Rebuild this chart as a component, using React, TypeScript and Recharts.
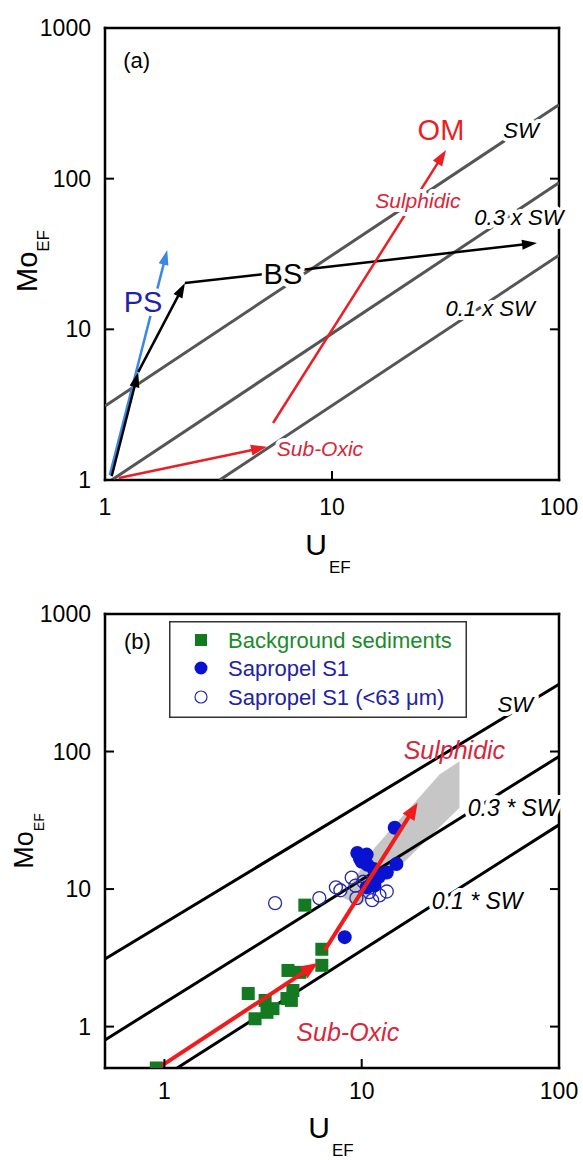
import React from 'react';
import { ScatterChart, Scatter, XAxis, YAxis, ReferenceDot, Legend } from 'recharts';

const FONT = '"Liberation Sans", Arial, Helvetica, sans-serif';

// ---- panel (a): conceptual Mo-U covariation model ----
const A_X_TICKS = [1, 10, 100];
const A_Y_TICKS = [1, 10, 100, 1000];
const A_SW = [{ u: 1, mo: 3.1 }, { u: 100, mo: 310 }];
const A_SW_03 = [{ u: 1.07, mo: 1 }, { u: 100, mo: 94 }];
const A_SW_01 = [{ u: 3.2, mo: 1 }, { u: 100, mo: 31 }];
const A_PS = [{ u: 1.05, mo: 1.08 }, { u: 1.88, mo: 33.6 }];
const A_BS = [{ u: 1.07, mo: 1.06 }, { u: 1.4, mo: 5.2 }, { u: 2.25, mo: 20.3 }, { u: 80, mo: 37.4 }];
const A_SUBOXIC = [{ u: 1.15, mo: 1.03 }, { u: 5.17, mo: 1.66 }];
const A_SULPHIDIC = [{ u: 5.5, mo: 2.39 }, { u: 31.8, mo: 155 }];

// ---- panel (b): enrichment factors of background sediments and sapropel S1 ----
const B_X_TICKS = [1, 10, 100];
const B_Y_TICKS = [1, 10, 100, 1000];
const B_SW = [{ u: 0.5, mo: 3.1 }, { u: 100, mo: 308 }];
const B_SW_03 = [{ u: 0.5, mo: 0.8 }, { u: 100, mo: 92 }];
const B_SW_01 = [{ u: 1.16, mo: 0.5 }, { u: 100, mo: 29.3 }];
const B_SUBOXIC = [{ u: 0.97, mo: 0.52 }, { u: 6.0, mo: 2.9 }];
const B_SULPHIDIC = [{ u: 6.5, mo: 3.6 }, { u: 19.2, mo: 42.4 }];
const B_FIELD = [
  { u: 31.3, mo: 85 }, { u: 31.3, mo: 39 }, { u: 9.8, mo: 7.6 },
  { u: 8.0, mo: 8.7 }, { u: 11.6, mo: 19.9 }, { u: 24.8, mo: 68 },
];
const BACKGROUND = [
  { u: 0.91, mo: 0.5 }, { u: 2.66, mo: 1.74 }, { u: 2.88, mo: 1.14 }, { u: 3.24, mo: 1.55 },
  { u: 3.31, mo: 1.27 }, { u: 3.55, mo: 1.35 }, { u: 4.18, mo: 1.6 }, { u: 4.48, mo: 1.83 },
  { u: 4.4, mo: 1.55 }, { u: 4.23, mo: 2.56 }, { u: 4.86, mo: 2.48 }, { u: 6.28, mo: 3.65 },
  { u: 6.28, mo: 2.79 }, { u: 5.15, mo: 7.64 },
];
const SAPROPEL = [
  { u: 14.7, mo: 27.9 }, { u: 9.5, mo: 18.3 }, { u: 10.6, mo: 17.8 }, { u: 10.0, mo: 15.8 },
  { u: 10.7, mo: 15.0 }, { u: 11.5, mo: 14.0 }, { u: 15.0, mo: 15.2 }, { u: 13.4, mo: 13.2 },
  { u: 12.2, mo: 12.3 }, { u: 11.2, mo: 11.0 }, { u: 10.6, mo: 10.3 }, { u: 11.6, mo: 10.6 },
  { u: 9.8, mo: 16.6 }, { u: 10.3, mo: 17.0 }, { u: 8.2, mo: 4.47 },
];
const SAPROPEL_FINE = [
  { u: 3.64, mo: 7.9 }, { u: 6.1, mo: 8.6 }, { u: 7.4, mo: 10.3 }, { u: 7.8, mo: 9.8 },
  { u: 8.9, mo: 12.1 }, { u: 9.3, mo: 10.6 }, { u: 9.4, mo: 8.6 }, { u: 10.9, mo: 9.5 },
  { u: 11.3, mo: 8.3 }, { u: 12.3, mo: 9.0 }, { u: 13.4, mo: 9.6 }, { u: 10.2, mo: 11.3 },
];
const LEGEND_LABELS = ['Background sediments', 'Sapropel S1', 'Sapropel S1 (<63 \u03bcm)'];

const GREEN = '#137a22';
const GREEN_TEXT = '#1b8a2c';
const BLUE = '#0a12d2';
const BLUE_TEXT = '#2222a4';
const RING = '#2a2aa6';
const RED_A = '#ea1f25';
const RED_B = '#f01c1c';
const RED_TEXT = '#d8263a';
const AXIS_LINE = { stroke: '#000', strokeWidth: 2.5, strokeLinecap: 'square' as const };
const tickFont = { fontFamily: FONT, fontSize: 23, fill: '#000' };

const bottomTick = (labelDy: number) => (p: any) => (
  <g>
    <line x1={p.x} y1={p.y} x2={p.x} y2={p.y - 9} stroke="#000" strokeWidth={2} />
    <text x={p.x} y={p.y + labelDy} textAnchor="middle" {...tickFont}>{p.payload.value}</text>
  </g>
);
const leftTick = (p: any) => (
  <g>
    <line x1={p.x} y1={p.y} x2={p.x + 9} y2={p.y} stroke="#000" strokeWidth={2} />
    <text x={p.x - 14} y={p.y + 8} textAnchor="end" {...tickFont}>{p.payload.value}</text>
  </g>
);
const rightTick = (p: any) => <line x1={p.x} y1={p.y} x2={p.x - 9} y2={p.y} stroke="#000" strokeWidth={2} />;
const topTick = (p: any) => <line x1={p.x} y1={p.y} x2={p.x} y2={p.y + 9} stroke="#000" strokeWidth={2} />;

const noShape = () => <g />;
const squareShape = (p: any) => <rect x={p.cx - 6.5} y={p.cy - 6.5} width={13} height={13} fill={GREEN} />;
const dotShape = (p: any) => <circle cx={p.cx} cy={p.cy} r={7} fill={BLUE} />;
const ringShape = (p: any) => <circle cx={p.cx} cy={p.cy} r={6.5} fill="none" stroke={RING} strokeWidth={1.3} />;

// straight polyline through the series points
const plainLine = (color: string, w: number) => (p: any) => (
  <polyline points={p.points.map((q: any) => `${q.x},${q.y}`).join(' ')} fill="none" stroke={color} strokeWidth={w} />
);

// every segment of the series gets a filled arrow head at its end
const arrowLine = (color: string, w: number, headL: number, headW: number) => (p: any) => {
  const pts = p.points;
  return (
    <g>
      {pts.slice(1).map((b: any, i: number) => {
        const a = pts[i];
        const dx = b.x - a.x;
        const dy = b.y - a.y;
        const len = Math.hypot(dx, dy) || 1;
        const ux = dx / len;
        const uy = dy / len;
        const bx = b.x - ux * headL;
        const by = b.y - uy * headL;
        const px = (-uy * headW) / 2;
        const py = (ux * headW) / 2;
        return (
          <g key={i}>
            <line x1={a.x} y1={a.y} x2={bx + ux} y2={by + uy} stroke={color} strokeWidth={w} />
            <polygon points={`${b.x},${b.y} ${bx + px},${by + py} ${bx - px},${by - py}`} fill={color} />
          </g>
        );
      })}
    </g>
  );
};

const path = (key: string, data: { u: number; mo: number }[], render: any) => (
  <Scatter key={key} name={key} data={data} shape={noShape} legendType="none" line={render} isAnimationActive={false} />
);

type NoteOpts = { size?: number; color?: string; italic?: boolean; halo?: boolean };
const note = (key: string, u: number, mo: number, text: string, o: NoteOpts = {}) => (
  <ReferenceDot
    key={key}
    x={u}
    y={mo}
    r={0}
    ifOverflow="visible"
    shape={(p: any) => (
      <text
        x={p.cx}
        y={p.cy}
        dy="0.36em"
        textAnchor="middle"
        fontFamily={FONT}
        fontSize={o.size ?? 22}
        fontStyle={o.italic ? 'italic' : 'normal'}
        fill={o.color ?? '#000'}
        stroke={o.halo ? '#fff' : 'none'}
        strokeWidth={o.halo ? 8 : 0}
        strokeLinejoin="round"
        paintOrder="stroke"
      >
        {text}
      </text>
    )}
  />
);

function PanelA() {
  return (
    <ScatterChart width={583} height={560} margin={{ top: 27, right: 23, bottom: 79, left: 104 }}>
      <XAxis dataKey="u" type="number" scale="log" domain={[1, 100]} ticks={A_X_TICKS} allowDataOverflow
        height={1} interval={0} tickLine={false} tickSize={0} tickMargin={0} axisLine={AXIS_LINE} tick={bottomTick(35)} />
      <XAxis xAxisId="top" orientation="top" type="number" scale="log" domain={[1, 100]} ticks={A_X_TICKS} allowDataOverflow
        height={1} tickLine={false} tick={false} axisLine={AXIS_LINE} />
      <YAxis dataKey="mo" type="number" scale="log" domain={[1, 1000]} ticks={A_Y_TICKS} allowDataOverflow
        width={1} interval={0} tickLine={false} tickSize={0} tickMargin={0} axisLine={AXIS_LINE} tick={leftTick} />
      <YAxis yAxisId="right" orientation="right" type="number" scale="log" domain={[1, 1000]} ticks={A_Y_TICKS} allowDataOverflow
        width={1} interval={0} tickLine={false} tickSize={0} tickMargin={0} axisLine={AXIS_LINE} tick={rightTick} />

      {path('SW', A_SW, plainLine('#555', 3))}
      {path('0.3 x SW', A_SW_03, plainLine('#555', 3))}
      {path('0.1 x SW', A_SW_01, plainLine('#555', 3))}
      {path('PS', A_PS, arrowLine('#3b87e6', 2.5, 15, 10))}
      {path('BS', A_BS, arrowLine('#000', 2.5, 15, 10))}
      {path('Sub-Oxic', A_SUBOXIC, arrowLine(RED_A, 2.5, 16, 11))}
      {path('Sulphidic', A_SULPHIDIC, arrowLine(RED_A, 2.5, 16, 11))}

      {note('a', 1.38, 612, '(a)', { size: 22 })}
      {note('sw', 68, 210, 'SW', { italic: true, halo: true })}
      {note('om', 30.2, 213, 'OM', { size: 29, color: RED_A })}
      {note('sul', 23.9, 72, 'Sulphidic', { italic: true, halo: true, color: RED_TEXT, size: 21 })}
      {note('sw3', 66.6, 55.6, '0.3 x SW', { italic: true, halo: true })}
      {note('bs', 6.08, 23.6, 'BS', { size: 29, halo: true })}
      {note('ps', 1.47, 15.2, 'PS', { size: 29, halo: true, color: '#1f1fb0' })}
      {note('sw1', 49.7, 13.8, '0.1 x SW', { italic: true, halo: true })}
      {note('sox', 8.85, 1.63, 'Sub-Oxic', { italic: true, halo: true, color: RED_TEXT, size: 21 })}
    </ScatterChart>
  );
}

function LegendBox() {
  const rows = [19, 47, 76];
  return (
    <svg width={298} height={97} style={{ display: 'block' }}>
      <rect x={0.75} y={0.75} width={296.5} height={95.5} fill="#fff" stroke="#333" strokeWidth={1.5} />
      <rect x={26} y={rows[0] - 6} width={12} height={12} fill={GREEN} />
      <circle cx={32} cy={rows[1]} r={6.5} fill={BLUE} />
      <circle cx={32} cy={rows[2]} r={6} fill="none" stroke={RING} strokeWidth={1.2} />
      {LEGEND_LABELS.map((t, i) => (
        <text key={t} x={59} y={rows[i] + 8} fontFamily={FONT} fontSize={22} fill={i === 0 ? GREEN_TEXT : BLUE_TEXT}>
          {t}
        </text>
      ))}
    </svg>
  );
}

function PanelB() {
  return (
    <ScatterChart width={583} height={600} margin={{ top: 53, right: 23, bottom: 91, left: 104 }}>
      <XAxis dataKey="u" type="number" scale="log" domain={[0.5, 100]} ticks={B_X_TICKS} allowDataOverflow
        height={1} interval={0} tickLine={false} tickSize={0} tickMargin={0} axisLine={AXIS_LINE} tick={bottomTick(31)} />
      <XAxis xAxisId="top" orientation="top" type="number" scale="log" domain={[0.5, 100]} ticks={B_X_TICKS} allowDataOverflow
        height={1} interval={0} tickLine={false} tickSize={0} tickMargin={0} axisLine={AXIS_LINE} tick={topTick} />
      <YAxis dataKey="mo" type="number" scale="log" domain={[0.5, 1000]} ticks={B_Y_TICKS} allowDataOverflow
        width={1} interval={0} tickLine={false} tickSize={0} tickMargin={0} axisLine={AXIS_LINE} tick={leftTick} />
      <YAxis yAxisId="right" orientation="right" type="number" scale="log" domain={[0.5, 1000]} ticks={B_Y_TICKS} allowDataOverflow
        width={1} interval={0} tickLine={false} tickSize={0} tickMargin={0} axisLine={AXIS_LINE} tick={rightTick} />

      {path('sulphidic field', B_FIELD, (p: any) => (
        <polygon points={p.points.map((q: any) => `${q.x},${q.y}`).join(' ')} fill="#c6c6c6" stroke="none" />
      ))}
      {path('SW', B_SW, plainLine('#000', 3))}
      {path('0.3 * SW', B_SW_03, plainLine('#000', 3))}
      {path('0.1 * SW', B_SW_01, plainLine('#000', 3))}
      <Scatter name={LEGEND_LABELS[0]} data={BACKGROUND} shape={squareShape} fill={GREEN} isAnimationActive={false} />
      <Scatter name={LEGEND_LABELS[2]} data={SAPROPEL_FINE} shape={ringShape} fill={RING} isAnimationActive={false} />
      {path('Sub-Oxic', B_SUBOXIC, arrowLine(RED_B, 4, 17, 14))}
      <Scatter name={LEGEND_LABELS[1]} data={SAPROPEL} shape={dotShape} fill={BLUE} isAnimationActive={false} />
      {path('Sulphidic', B_SULPHIDIC, arrowLine(RED_B, 4, 17, 14))}

      {note('b', 0.73, 635, '(b)', { size: 22 })}
      {note('sw', 60, 220, 'SW', { italic: true, halo: true })}
      {note('sul', 29.5, 103, 'Sulphidic', { italic: true, color: RED_TEXT, size: 25 })}
      {note('sw3', 58.6, 39, '0.3 * SW', { italic: true, halo: true, size: 23 })}
      {note('sw1', 38.5, 8.2, '0.1 * SW', { italic: true, halo: true, size: 23 })}
      {note('sox', 8.5, 0.92, 'Sub-Oxic', { italic: true, color: RED_TEXT, size: 25 })}

      <Legend
        layout="vertical"
        align="center"
        verticalAlign="middle"
        wrapperStyle={{ left: 169, top: 61, width: 298, height: 97 }}
        content={() => <LegendBox />}
      />
    </ScatterChart>
  );
}

function AxisTitles() {
  return (
    <svg width={583} height={1160} style={{ position: 'absolute', left: 0, top: 0, pointerEvents: 'none' }}>
      <text transform="rotate(-90 37 261)" x={37} y={261} textAnchor="middle" fontFamily={FONT} fill="#000">
        <tspan fontSize={29}>Mo</tspan>
        <tspan fontSize={17} dy={12}>EF</tspan>
      </text>
      <text x={328} y={555} textAnchor="middle" fontFamily={FONT} fill="#000">
        <tspan fontSize={30}>U</tspan>
        <tspan fontSize={17} dx={2} dy={18}>EF</tspan>
      </text>
      <text transform="rotate(-90 33 841)" x={33} y={841} textAnchor="middle" fontFamily={FONT} fill="#000">
        <tspan fontSize={27}>Mo</tspan>
        <tspan fontSize={14} dy={11}>EF</tspan>
      </text>
      <text x={331} y={1138} textAnchor="middle" fontFamily={FONT} fill="#000">
        <tspan fontSize={30}>U</tspan>
        <tspan fontSize={17} dx={2} dy={18}>EF</tspan>
      </text>
    </svg>
  );
}

export default function App() {
  return (
    <div style={{ position: 'absolute', left: 0, top: 0, width: 583, height: 1160, background: '#fff', overflow: 'hidden' }}>
      <div style={{ position: 'absolute', left: 0, top: 0 }}>
        <PanelA />
      </div>
      <div style={{ position: 'absolute', left: 0, top: 560 }}>
        <PanelB />
      </div>
      <AxisTitles />
    </div>
  );
}
